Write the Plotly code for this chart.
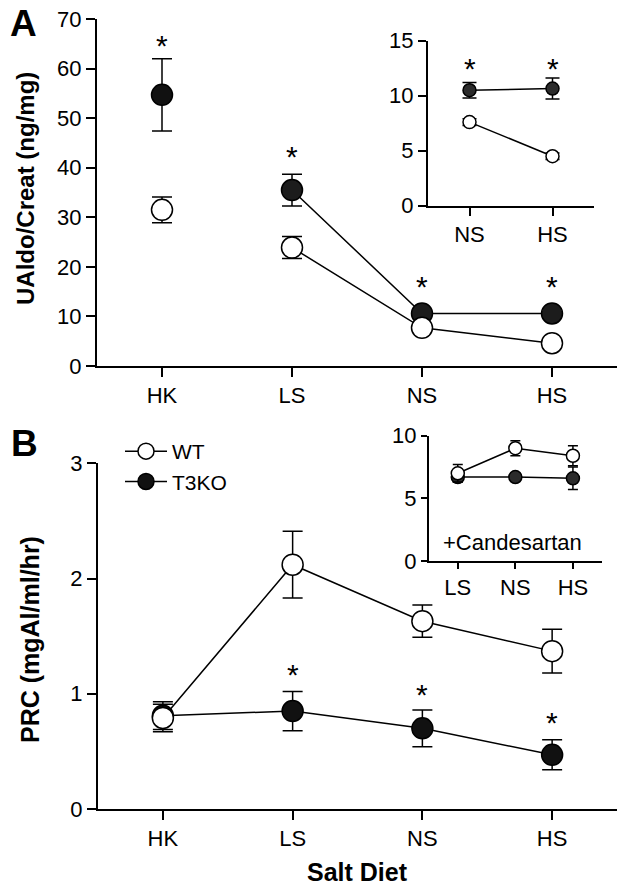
import plotly.graph_objects as go

# panel A: urinary aldosterone / creatinine
cats_a = ["HK", "LS", "NS", "HS"]
wt_a = [31.5, 23.9, 7.7, 4.6]
wt_a_err = [2.6, 2.2, 0.6, 0.5]
ko_a = [54.7, 35.5, 10.6, 10.6]
ko_a_err = [7.3, 3.2, 0.6, 0.9]
stars_a_x = ["HK", "LS", "NS", "HS"]
stars_a_y = [65.8, 43.5, 17.3, 17.3]

# panel A inset
cats_ai = ["NS", "HS"]
wt_ai = [7.6, 4.5]
wt_ai_err = [0.3, 0.3]
ko_ai = [10.5, 10.65]
ko_ai_err = [0.7, 0.95]
stars_ai_x = ["NS", "HS"]
stars_ai_y = [13.0, 13.0]

# panel B: plasma renin concentration
cats_b = ["HK", "LS", "NS", "HS"]
wt_b = [0.79, 2.12, 1.63, 1.37]
wt_b_err = [0.12, 0.29, 0.14, 0.19]
ko_b = [0.81, 0.85, 0.70, 0.47]
ko_b_err = [0.12, 0.17, 0.16, 0.13]
stars_b_x = ["LS", "NS", "HS"]
stars_b_y = [1.22, 1.05, 0.80]

# panel B inset (+Candesartan)
cats_bi = ["LS", "NS", "HS"]
wt_bi = [7.0, 9.0, 8.4]
wt_bi_err = [0.7, 0.6, 0.8]
ko_bi = [6.7, 6.7, 6.6]
ko_bi_err = [0.4, 0.3, 0.9]

FONT = "Liberation Sans, Arial, sans-serif"
W, H = 627, 891


def px(x0, x1):
    return [x0 / W, x1 / W]


def py(top, bottom):
    return [1 - bottom / H, 1 - top / H]


def series(x, y, err, fill, size, cap, xa, ya, mode="lines+markers", name=None, legend=False, rank=None):
    return go.Scatter(
        x=x, y=y, mode=mode, name=name, showlegend=legend, legendrank=rank,
        xaxis=xa, yaxis=ya,
        line=dict(color="black", width=1.5),
        marker=dict(symbol="circle", size=size, color=fill, line=dict(color="black", width=1.5)),
        error_y=dict(type="data", array=err, visible=True, color="black", thickness=1.5, width=cap),
    )


fig = go.Figure()

# A main: HK not joined to the rest
fig.add_trace(series(cats_a[:1], ko_a[:1], ko_a_err[:1], "#111111", 21, 10, "x", "y", mode="markers"))
fig.add_trace(series(cats_a[1:], ko_a[1:], ko_a_err[1:], "#1c1c1c", 21, 10, "x", "y"))
fig.add_trace(series(cats_a[:1], wt_a[:1], wt_a_err[:1], "white", 21, 10, "x", "y", mode="markers"))
fig.add_trace(series(cats_a[1:], wt_a[1:], wt_a_err[1:], "white", 21, 10, "x", "y"))

# A inset
fig.add_trace(series(cats_ai, ko_ai, ko_ai_err, "#2b2b2b", 13, 7, "x2", "y2"))
fig.add_trace(series(cats_ai, wt_ai, wt_ai_err, "white", 13, 7, "x2", "y2"))

# B main
fig.add_trace(series(cats_b, ko_b, ko_b_err, "#111111", 21, 10, "x3", "y3", name="T3KO", legend=True, rank=2))
fig.add_trace(series(cats_b, wt_b, wt_b_err, "white", 21, 10, "x3", "y3", name="WT", legend=True, rank=1))

# B inset
fig.add_trace(series(cats_bi, ko_bi, ko_bi_err, "#2b2b2b", 13, 5, "x4", "y4"))
fig.add_trace(series(cats_bi, wt_bi, wt_bi_err, "white", 13, 5, "x4", "y4"))

axis_common = dict(
    showline=True, linecolor="black", linewidth=2, ticks="outside", tickcolor="black",
    tickwidth=2, showgrid=False, zeroline=False, automargin=False,
    tickfont=dict(family=FONT, size=22, color="black"),
)

fig.update_layout(
    xaxis=dict(axis_common, domain=px(97, 617), range=[-0.5, 3.5], anchor="y", ticklen=9,
               type="category", categoryarray=cats_a),
    yaxis=dict(axis_common, domain=py(19, 366), range=[0, 70], dtick=10, anchor="x", ticklen=9),
    xaxis2=dict(axis_common, domain=px(428, 594), range=[-0.5, 1.5], anchor="y2", ticklen=8,
                type="category", categoryarray=cats_ai),
    yaxis2=dict(axis_common, domain=py(40.7, 205.7), range=[0, 15], dtick=5, anchor="x2", ticklen=8),
    xaxis3=dict(axis_common, domain=px(98, 617), range=[-0.5, 3.5], anchor="y3", ticklen=9,
                type="category", categoryarray=cats_b),
    yaxis3=dict(axis_common, domain=py(463.3, 809), range=[0, 3], dtick=1, anchor="x3", ticklen=9),
    xaxis4=dict(axis_common, domain=px(429, 601.7), range=[-0.5, 2.5], anchor="y4", ticklen=6,
                type="category", categoryarray=cats_bi),
    yaxis4=dict(axis_common, domain=py(435.7, 561), range=[0, 10], dtick=5, anchor="x4", ticklen=6),
    width=W, height=H,
    margin=dict(l=0, r=0, t=0, b=0, autoexpand=False),
    paper_bgcolor="white",
    plot_bgcolor="rgba(0,0,0,0)",
    font=dict(family=FONT, color="black"),
    legend=dict(x=120 / W, y=1 - 431 / H, xanchor="left", yanchor="top",
                font=dict(family=FONT, size=21, color="black"),
                bgcolor="rgba(0,0,0,0)", itemwidth=42, tracegroupgap=0),
)

ann = []
# significance stars
for xs, ys, xr, yr in [(stars_a_x, stars_a_y, "x", "y"), (stars_ai_x, stars_ai_y, "x2", "y2"),
                       (stars_b_x, stars_b_y, "x3", "y3")]:
    for xv, yv in zip(xs, ys):
        ann.append(dict(x=xv, y=yv, xref=xr, yref=yr, text="*", showarrow=False,
                        yanchor="middle", yshift=-6, font=dict(family=FONT, size=30, color="black")))

# panel letters, axis titles, inset label
ann += [
    dict(x=8 / W, y=1 - 24 / H, text="<b>A</b>", xanchor="left", font=dict(size=37)),
    dict(x=9 / W, y=1 - 443 / H, text="<b>B</b>", xanchor="left", font=dict(size=37)),
    dict(x=25 / W, y=1 - 189 / H, text="<b>UAldo/Creat (ng/mg)</b>", textangle=-90,
         xanchor="center", font=dict(size=24)),
    dict(x=30 / W, y=1 - 640 / H, text="<b>PRC (mgAl/ml/hr)</b>", textangle=-90,
         xanchor="center", font=dict(size=25)),
    dict(x=357 / W, y=1 - 872 / H, text="<b>Salt Diet</b>", xanchor="center", font=dict(size=25)),
    dict(x=512 / W, y=1 - 542 / H, text="+Candesartan", xanchor="center", font=dict(size=22)),
]
for a in ann[-6:]:
    a.update(xref="paper", yref="paper", showarrow=False, yanchor="middle")
    a["font"].update(family=FONT, color="black")
fig.update_layout(annotations=ann)

# drop the browser's default page margin so the figure sits at the window origin
fig.write_html("out.html", config={"displayModeBar": False},
               post_script="document.body.style.margin='0';")
